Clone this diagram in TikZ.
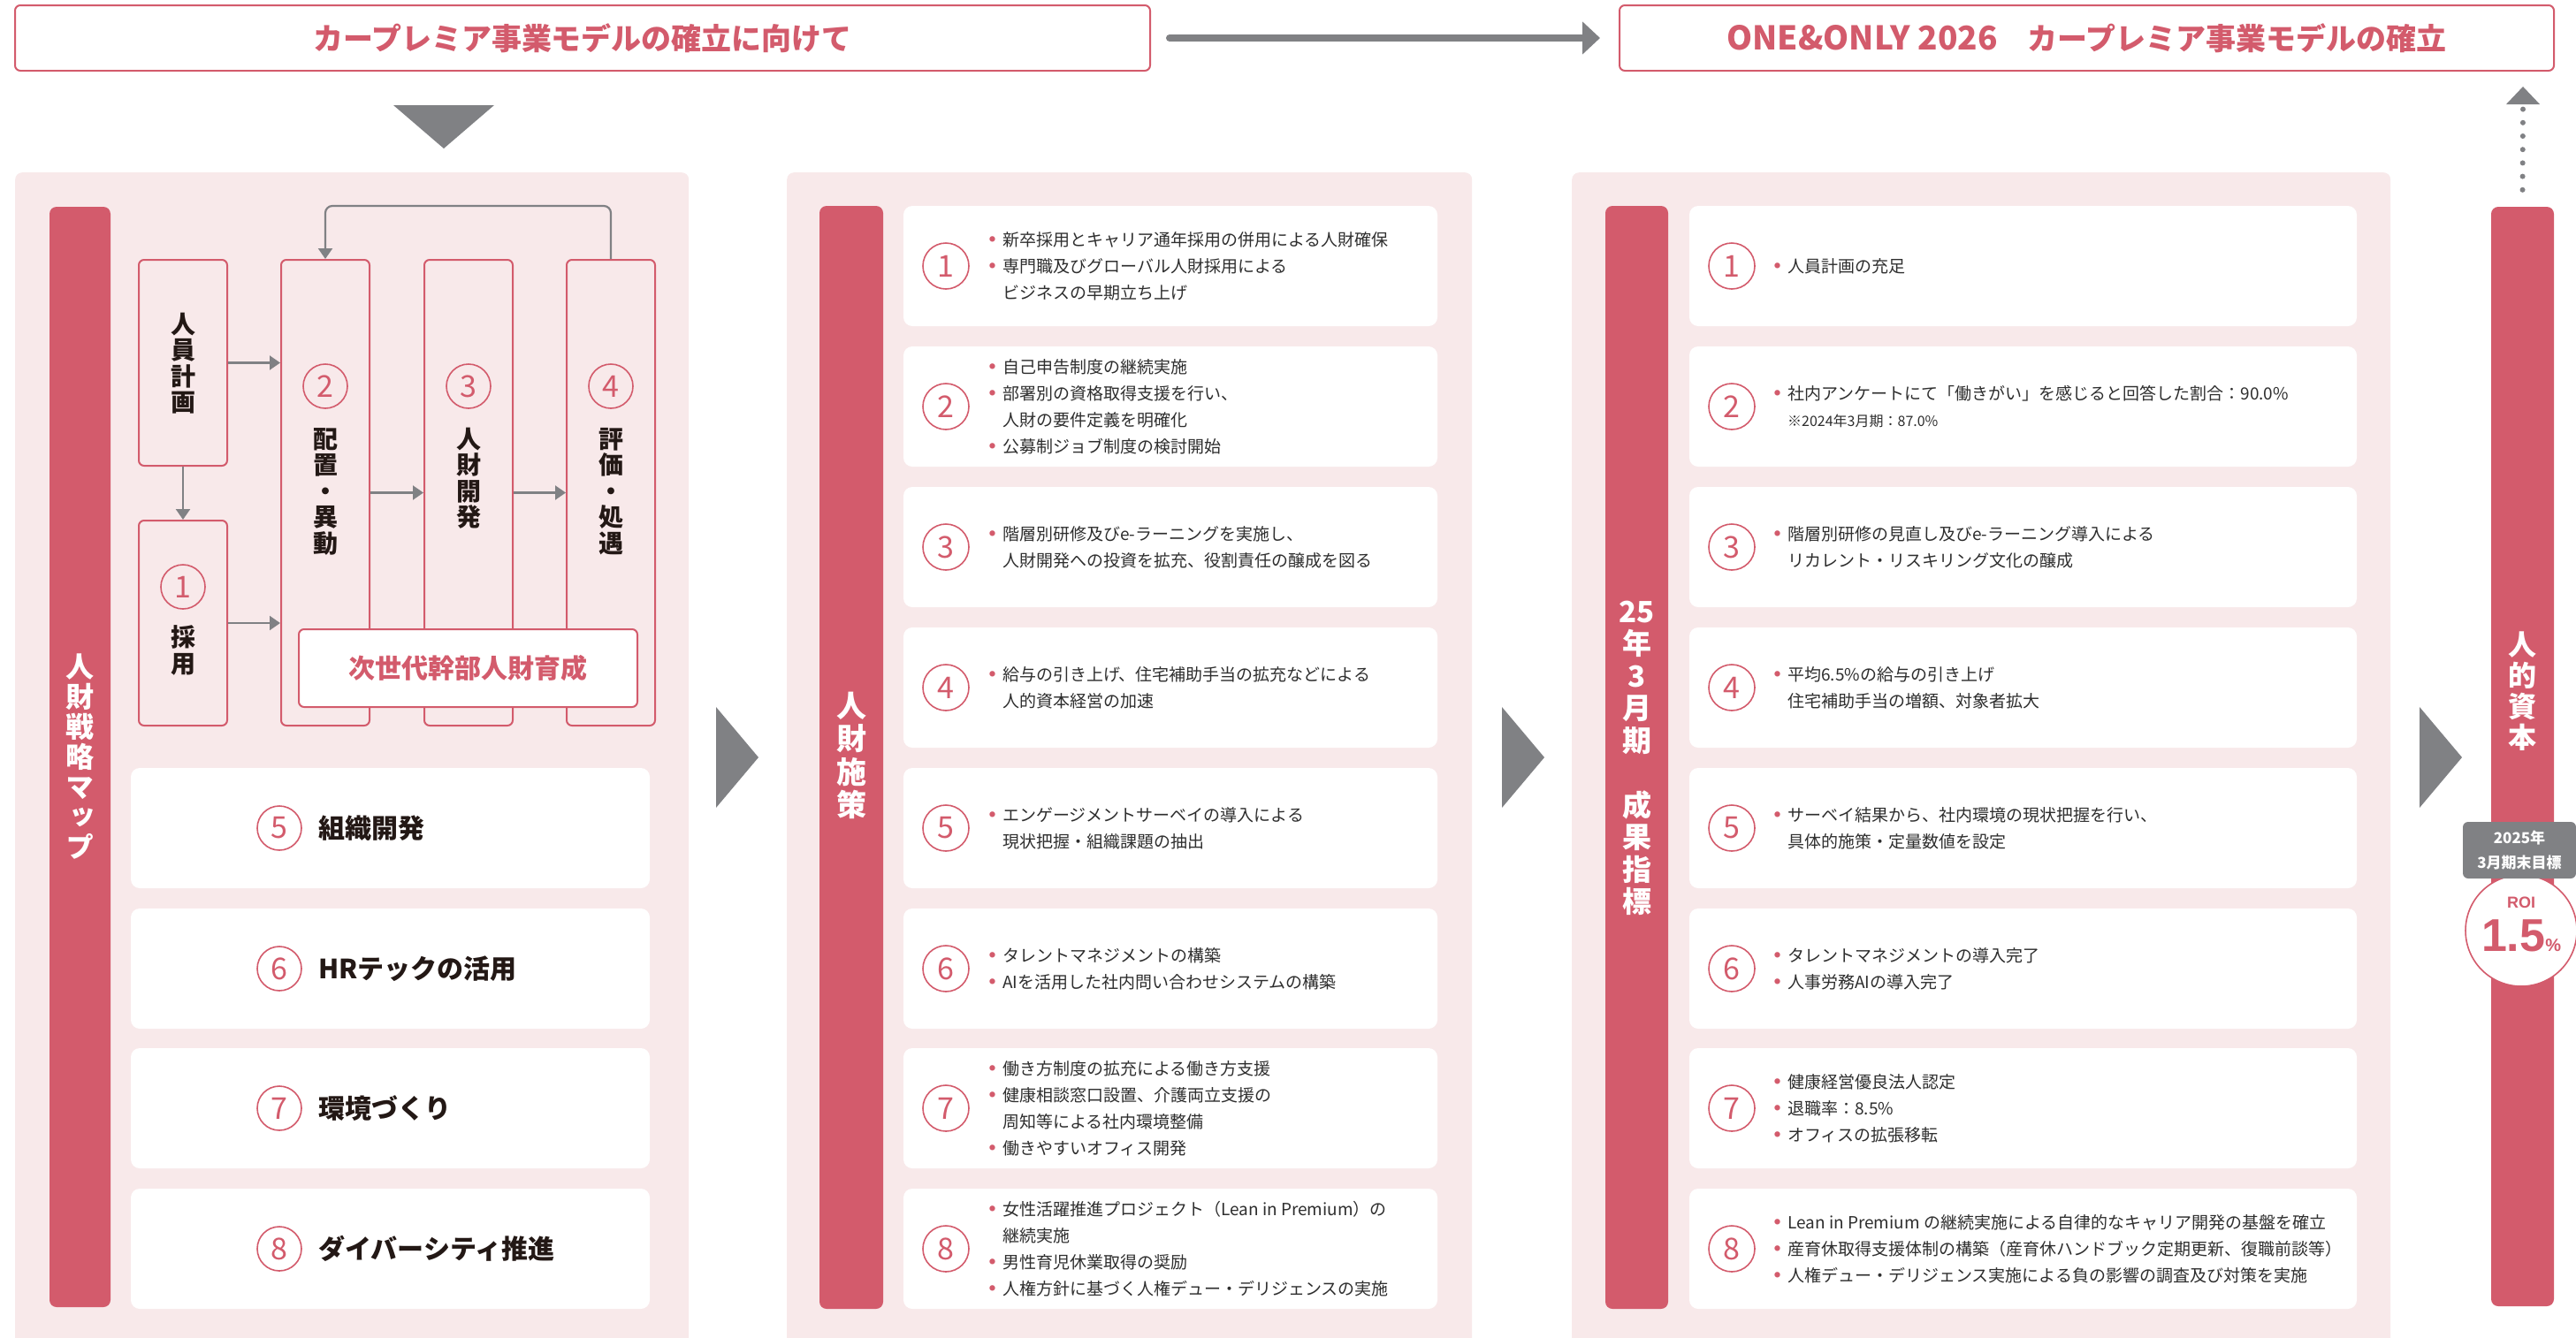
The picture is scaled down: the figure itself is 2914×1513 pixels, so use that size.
\documentclass[tikz,border=0pt]{standalone}
\usepackage{fontspec}
\setmainfont{Noto Sans CJK JP}
\newfontfamily\vjp[RawFeature=+vert]{Noto Sans CJK JP}
\newfontfamily\roifont{Liberation Sans}
\usetikzlibrary{arrows.meta}
\definecolor{pk}{HTML}{D35B6C}
\definecolor{bgp}{HTML}{F8E9EA}
\definecolor{gr}{HTML}{808184}
\definecolor{tx}{HTML}{2E2E2E}
\definecolor{ink}{HTML}{231815}
\newcommand\bl{\makebox[15pt][l]{\textcolor{pk}{\raisebox{4.5pt}{\fontsize{7}{7}\selectfont ●}}}}
\newcommand\ind{\makebox[15pt]{}}
\begin{document}
\begin{tikzpicture}[x=1pt,y=-1pt,
  panel/.style={fill=bgp, rounded corners=8pt, inner sep=0pt, anchor=north west},
  bar/.style={fill=pk, rounded corners=8pt, inner sep=0pt},
  card/.style={fill=white, rounded corners=10pt, inner sep=0pt},
  flowbox/.style={draw=pk, line width=2pt, rounded corners=6pt, inner sep=0pt, minimum width=100pt},
  topbox/.style={draw=pk, line width=2pt, fill=white, rounded corners=6pt, inner sep=0pt, minimum height=74pt, text=pk, font=\fontsize{34}{34}\selectfont\bfseries},
  numc/.style={circle, draw=pk, line width=1.6pt, inner sep=0pt, minimum size=52pt, text=pk, font=\fontsize{34}{34}\selectfont},
  numcs/.style={numc, minimum size=50pt},
  vlab/.style={align=center, inner sep=0pt, text=ink, font=\vjp\fontsize{28}{29.5}\selectfont\bfseries},
  bartxt/.style={align=center, inner sep=0pt, text=white},
  garrow/.style={draw=gr, line width=2.2pt, -{Triangle[length=12pt,width=16pt]}},
  lab1/.style={anchor=west, inner sep=0pt, text=ink, font=\fontsize{30}{30}\selectfont\bfseries},
  ctext/.style={anchor=west, align=left, inner sep=0pt, text=tx, font=\fontsize{19}{30}\selectfont}
]
\useasboundingbox (0,0) rectangle (2914,1513);
\begin{scope}
\clip (0,0) rectangle (2914,1513);
\fill[white] (0,0) rectangle (2914,1513);

% panels
\node[panel, minimum width=762pt, minimum height=1345pt] (p1) at (17,195) {};
\node[panel, minimum width=775pt, minimum height=1345pt] (p2) at (890,195) {};
\node[panel, minimum width=926pt, minimum height=1345pt] (p3) at (1778,195) {};

% top boxes and arrow
\node[topbox, minimum width=1284pt] (tl) at (659,43) {カープレミア事業モデルの確立に向けて};
\node[topbox, minimum width=1057pt] (tr) at (2360.5,43) {{\fontsize{37}{37}\selectfont ONE\&ONLY 2026}　カープレミア事業モデルの確立};
\draw[gr, line width=8pt, line cap=round, -{Triangle[length=20pt,width=36pt]}] ([xshift=21pt]tl.east) -- ([xshift=-21pt]tr.west);
\fill[gr] (445,119) -- (559,119) -- (502,168) -- cycle;

% bars
\node[bar, minimum width=69pt, minimum height=1245pt] (bar1) at (90.5,856.5) {};
\node[bar, minimum width=72pt, minimum height=1248pt] (bar2) at (963,857) {};
\node[bar, minimum width=71pt, minimum height=1248pt] (bar3) at (1851.5,857) {};
\node[bar, minimum width=71pt, minimum height=1244pt] (bar4) at (2853.5,856) {};

\node[bartxt, font=\vjp\fontsize{32}{34}\selectfont\bfseries] (t1) at (bar1.center) {人\\財\\戦\\略\\マ\\ッ\\プ};
\node[bartxt, font=\vjp\fontsize{34}{37.5}\selectfont\bfseries] (t2) at (963,855) {人\\財\\施\\策};
\node[bartxt, font=\vjp\fontsize{33}{36.5}\selectfont\bfseries] (t3) at (1851.5,858) {25\\年\\3\\月\\期\\\mbox{}\\成\\果\\指\\標};
\node[bartxt, font=\vjp\fontsize{32}{35}\selectfont\bfseries] (t4) at (2853.5,782) {人\\的\\資\\本};

% between-panel triangles
\fill[gr] (810,800) -- (858,857) -- (810,914) -- cycle;
\fill[gr] (1699,800) -- (1747,857) -- (1699,914) -- cycle;
\fill[gr] (2737,800) -- (2785,857) -- (2737,914) -- cycle;

% dotted up arrow
\coordinate (uptip) at (2854,98);
\draw[gr, line width=6pt, line cap=round, dash pattern=on 0pt off 15.2pt] ([yshift=19pt]bar4.north) -- (2854,122);
\fill[gr] ([xshift=-19pt,yshift=-20pt]uptip) -- ([xshift=19pt,yshift=-20pt]uptip) -- (uptip) -- cycle;

% ---- panel 1 flow ----
\node[flowbox, minimum height=233pt] (plan) at (207,410.5) {};
\node[flowbox, minimum height=232pt] (rec) at (207,705) {};
\node[flowbox, minimum height=527pt] (place) at (368,557.5) {};
\node[flowbox, minimum height=527pt] (dev) at (530,557.5) {};
\node[flowbox, minimum height=527pt] (eval) at (691,557.5) {};
\node[flowbox, fill=white, minimum width=383pt, minimum height=88pt] (next) at (529.5,756) {};
\node[text=pk, inner sep=0pt, font=\fontsize{30}{30}\selectfont\bfseries] (nextL) at (next.center) {次世代幹部人財育成};

\draw[garrow] (plan.east) -- (plan.east -| place.west);
\draw[garrow] (rec.east) -- (rec.east -| place.west);
\draw[garrow] (plan.south) -- (rec.north);
\draw[garrow] (place.east) -- (place.east -| dev.west);
\draw[garrow] (dev.east) -- (dev.east -| eval.west);
\draw[garrow, rounded corners=8pt] (eval.north) -- ([yshift=60pt]eval.north) -| (place.north);

\node[vlab] (planL) at (207,411) {人\\員\\計\\画};
\node[numcs] (n1) at (207,664) {1};
\node[vlab] (recL) at (207,736) {採\\用};
\node[numcs] (n2) at (368,437) {2};
\node[vlab] (placeL) at (368,556) {配\\置\\・\\異\\動};
\node[numcs] (n3) at (530,437) {3};
\node[vlab] (devL) at (530,541) {人\\財\\開\\発};
\node[numcs] (n4) at (691,437) {4};
\node[vlab] (evalL) at (691,556) {評\\価\\・\\処\\遇};

% panel 1 cards
\foreach \i/\y in {5/937,6/1096,7/1254,8/1413}{
  \node[card, minimum width=587pt, minimum height=136pt] (a\i) at (441.5,\y) {};
  \node[numcs] (an\i) at (316,\y) {\i};
}
\node[lab1] (a5L) at (360,937) {組織開発};
\node[lab1] (a6L) at (360,1096) {HRテックの活用};
\node[lab1] (a7L) at (360,1254) {環境づくり};
\node[lab1] (a8L) at (360,1413) {ダイバーシティ推進};

% panel 2 / 3 cards
\foreach \i/\y in {1/301,2/460,3/619,4/778,5/937,6/1096,7/1254,8/1413}{
  \node[card, minimum width=604pt, minimum height=136pt] (b\i) at (1324,\y) {};
  \node[numc] (bn\i) at (1070,\y) {\i};
  \node[card, minimum width=755pt, minimum height=136pt] (c\i) at (2288.5,\y) {};
  \node[numc] (cn\i) at (1959,\y) {\i};
}

\node[ctext] (b1T) at (1119,301) {\bl 新卒採用とキャリア通年採用の併用による人財確保\\\bl 専門職及びグローバル人財採用による\\\ind ビジネスの早期立ち上げ};
\node[ctext] (b2T) at (1119,460) {\bl 自己申告制度の継続実施\\\bl 部署別の資格取得支援を行い、\\\ind 人財の要件定義を明確化\\\bl 公募制ジョブ制度の検討開始};
\node[ctext] (b3T) at (1119,619) {\bl 階層別研修及びe-ラーニングを実施し、\\\ind 人財開発への投資を拡充、役割責任の醸成を図る};
\node[ctext] (b4T) at (1119,778) {\bl 給与の引き上げ、住宅補助手当の拡充などによる\\\ind 人的資本経営の加速};
\node[ctext] (b5T) at (1119,937) {\bl エンゲージメントサーベイの導入による\\\ind 現状把握・組織課題の抽出};
\node[ctext] (b6T) at (1119,1096) {\bl タレントマネジメントの構築\\\bl AIを活用した社内問い合わせシステムの構築};
\node[ctext] (b7T) at (1119,1254) {\bl 働き方制度の拡充による働き方支援\\\bl 健康相談窓口設置、介護両立支援の\\\ind 周知等による社内環境整備\\\bl 働きやすいオフィス開発};
\node[ctext] (b8T) at (1119,1413) {\bl 女性活躍推進プロジェクト（Lean in Premium）の\\\ind 継続実施\\\bl 男性育児休業取得の奨励\\\bl 人権方針に基づく人権デュー・デリジェンスの実施};

\node[ctext] (c1T) at (2007,301) {\bl 人員計画の充足};
\node[ctext] (c2T) at (2007,460) {\bl 社内アンケートにて「働きがい」を感じると回答した割合：90.0\%\\\ind {\fontsize{16}{30}\selectfont ※2024年3月期：87.0\%}};
\node[ctext] (c3T) at (2007,619) {\bl 階層別研修の見直し及びe-ラーニング導入による\\\ind リカレント・リスキリング文化の醸成};
\node[ctext] (c4T) at (2007,778) {\bl 平均6.5\%の給与の引き上げ\\\ind 住宅補助手当の増額、対象者拡大};
\node[ctext] (c5T) at (2007,937) {\bl サーベイ結果から、社内環境の現状把握を行い、\\\ind 具体的施策・定量数値を設定};
\node[ctext] (c6T) at (2007,1096) {\bl タレントマネジメントの導入完了\\\bl 人事労務AIの導入完了};
\node[ctext] (c7T) at (2007,1254) {\bl 健康経営優良法人認定\\\bl 退職率：8.5\%\\\bl オフィスの拡張移転};
\node[ctext] (c8T) at (2007,1413) {\bl Lean in Premium の継続実施による自律的なキャリア開発の基盤を確立\\\bl 産育休取得支援体制の構築（産育休ハンドブック定期更新、復職前談等）\\\bl 人権デュー・デリジェンス実施による負の影響の調査及び対策を実施};

% ROI
\node[circle, draw=pk, line width=1.6pt, fill=white, minimum size=126pt, inner sep=0pt] (roi) at (2852,1053) {};
\node[fill=gr, rounded corners=6pt, minimum width=128pt, minimum height=64pt, inner sep=0pt, text=white, align=center, font=\fontsize{17}{28}\selectfont\bfseries] (goal) at (2850,962) {2025年\\3月期末目標};
\node[text=pk, inner sep=0pt, font=\roifont\fontsize{18}{18}\selectfont\bfseries] (roiT) at (2852,1021) {ROI};
\node[text=pk, inner sep=0pt, font=\roifont\fontsize{52}{52}\selectfont\bfseries] (roiV) at (2852,1059) {1.5{\fontsize{20}{20}\selectfont\%}};
\end{scope}
\end{tikzpicture}
\end{document}
